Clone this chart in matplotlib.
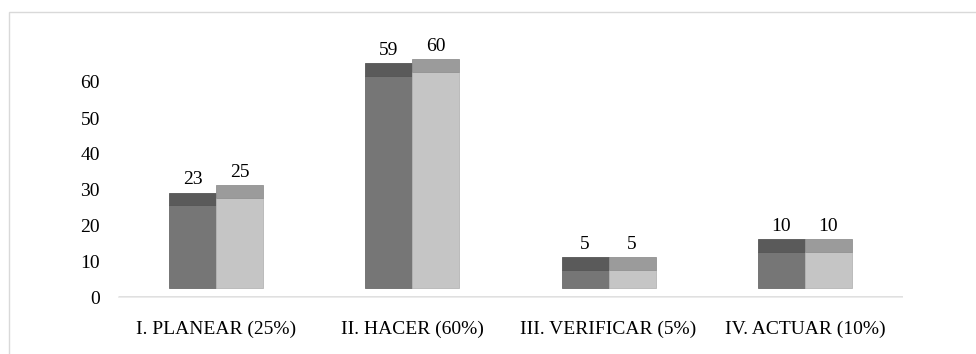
import matplotlib
matplotlib.use("Agg")
import matplotlib.pyplot as plt
from matplotlib.patches import Rectangle
import numpy as np

categories = ["I. PLANEAR (25%)", "II. HACER (60%)", "III. VERIFICAR (5%)", "IV. ACTUAR (10%)"]
serie_a = [23, 59, 5, 10]
serie_b = [25, 60, 5, 10]
y_ticks = [0, 10, 20, 30, 40, 50, 60]

W, H = 976, 354
fig = plt.figure(figsize=(W / 100, H / 100), dpi=100)
fig.patch.set_facecolor("white")

# outer chart frame
fig.patches.append(Rectangle((9 / W, -0.1), 1.2, 1 - 12 / H + 0.1, transform=fig.transFigure,
                             fill=False, edgecolor="#d9d9d9", lw=1.0, zorder=0))

# plot area: x from 118 to 903 px, value 0 at y=298 px
x0, x1 = 118, 903
ybot = 298
ymax = 72
ppu = 3.6  # pixels per unit
ytop = ybot - ymax * ppu
ax = fig.add_axes([x0 / W, (H - ybot) / H, (x1 - x0) / W, (ybot - ytop) / H])
ax.set_xlim(-0.5, len(categories) - 0.5)
ax.set_ylim(0, ymax)
for s in ax.spines.values():
    s.set_visible(False)
ax.set_facecolor("none")

font = dict(family="Liberation Serif", size=14, color="black")

floor = 2.8   # depth offset of the bar bases
cap = 3.5     # height of the visible top face
bw = 0.24
x = np.arange(len(categories))

front_a, top_a = "#767676", "#5a5a5a"
front_b, top_b = "#c5c5c5", "#9b9b9b"

ax.bar(x - bw / 2, serie_a, bw, bottom=floor, color=front_a, edgecolor="#6a6a6a", lw=0.6, zorder=3)
ax.bar(x - bw / 2, cap, bw, bottom=np.array(serie_a) + floor, color=top_a, edgecolor="#555555", lw=0.6, zorder=3)
ax.bar(x + bw / 2, serie_b, bw, bottom=floor, color=front_b, edgecolor="#b5b5b5", lw=0.6, zorder=3)
ax.bar(x + bw / 2, cap, bw, bottom=np.array(serie_b) + floor, color=top_b, edgecolor="#929292", lw=0.6, zorder=3)

for xi, va, vb in zip(x, serie_a, serie_b):
    ax.text(xi - bw / 2, va + floor + cap + 1.2, str(va), ha="center", va="bottom", **font)
    ax.text(xi + bw / 2, vb + floor + cap + 1.2, str(vb), ha="center", va="bottom", **font)

# floor strip
ax.axhline(0, color="#dcdcdc", lw=3.4, zorder=1, solid_capstyle="butt")
ax.axhline(0, color="#ededed", lw=2.0, zorder=2, solid_capstyle="butt")

ax.set_yticks(y_ticks)
ax.set_yticklabels([str(t) for t in y_ticks], fontdict=font)
ax.tick_params(axis="y", length=0, pad=13)
ax.set_xticks(x)
ax.set_xticklabels(categories, fontdict=font)
ax.tick_params(axis="x", length=0, pad=16)

fig.savefig("out.png", dpi=100, facecolor="white")
